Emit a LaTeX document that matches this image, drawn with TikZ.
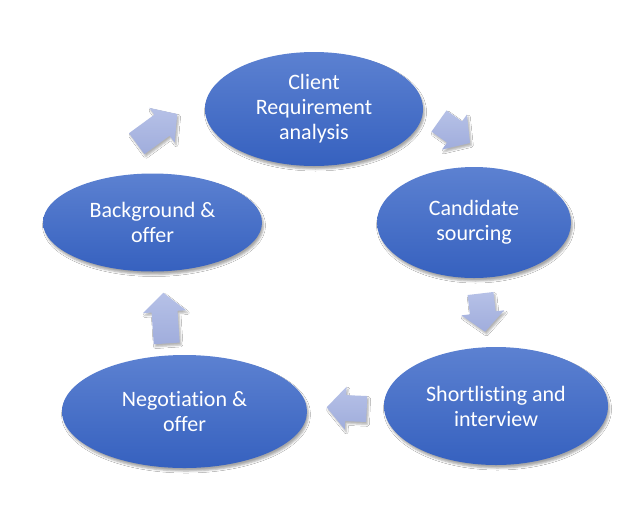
\documentclass[tikz,border=0pt]{standalone}
\usepackage{fontspec}
\setmainfont{Carlito}[Ligatures=NoCommon]
\usetikzlibrary{shapes.geometric,calc,shadows.blur}
\definecolor{elltop}{HTML}{5C81D1}
\definecolor{ellbot}{HTML}{3661BF}
\definecolor{arrtop}{HTML}{B6C1E7}
\definecolor{arrbot}{HTML}{A0ADDC}
\tikzset{
  stage/.style={ellipse, inner sep=0pt, draw=none, top color=elltop, bottom color=ellbot,
    text=white, align=center, font=\fontsize{22}{25}\selectfont,
    blur shadow={shadow xshift=1.5pt, shadow yshift=-3pt, shadow blur radius=2pt, shadow opacity=35}},
  blockarr/.style={draw=none, top color=arrtop, bottom color=arrbot,
    blur shadow={shadow xshift=1.5pt, shadow yshift=-2.5pt, shadow blur radius=1.8pt, shadow opacity=30}}
}
\newcommand\cycarrow[3]{%
  \coordinate (#1t) at (#2);
  \coordinate (#1p) at (#3);
  \coordinate (#1h) at ($(#1p)!19pt!(#1t)$);
  \path[blockarr] ($(#1t)!13pt!90:(#1p)$) -- ($(#1h)!13pt!90:(#1p)$) -- ($(#1h)!21.5pt!90:(#1p)$)
    -- (#1p) -- ($(#1h)!21.5pt!-90:(#1p)$) -- ($(#1h)!13pt!-90:(#1p)$) -- ($(#1t)!13pt!-90:(#1p)$) -- cycle;
}
\begin{document}
\begin{tikzpicture}[x=1pt,y=-1pt]
\fill[white] (0,0) rectangle (642,507);
\useasboundingbox (0,0) rectangle (642,507);
\node[stage, minimum width=218pt, minimum height=114pt] (req) at (314,109) {Client\\Requirement\\analysis};
\node[stage, minimum width=194pt, minimum height=111pt] (src) at (474,222.5) {Candidate\\sourcing};
\node[stage, minimum width=224pt, minimum height=118pt] (sht) at (496,406) {Shortlisting and\\interview};
\node[stage, minimum width=245pt, minimum height=113pt] (neg) at (184.5,411.5) {Negotiation \&\\offer};
\node[stage, minimum width=219pt, minimum height=98pt] (bgo) at (152.5,222.5) {Background \&\\offer};
\cycarrow{aa}{136.7,143.7}{177.3,114}
\cycarrow{ab}{439,121}{470,143}
\cycarrow{ac}{480.5,293.5}{485,331.7}
\cycarrow{ad}{366.7,409}{326.7,407.3}
\cycarrow{ae}{166.7,343.4}{163.3,292.7}
\end{tikzpicture}
\end{document}
